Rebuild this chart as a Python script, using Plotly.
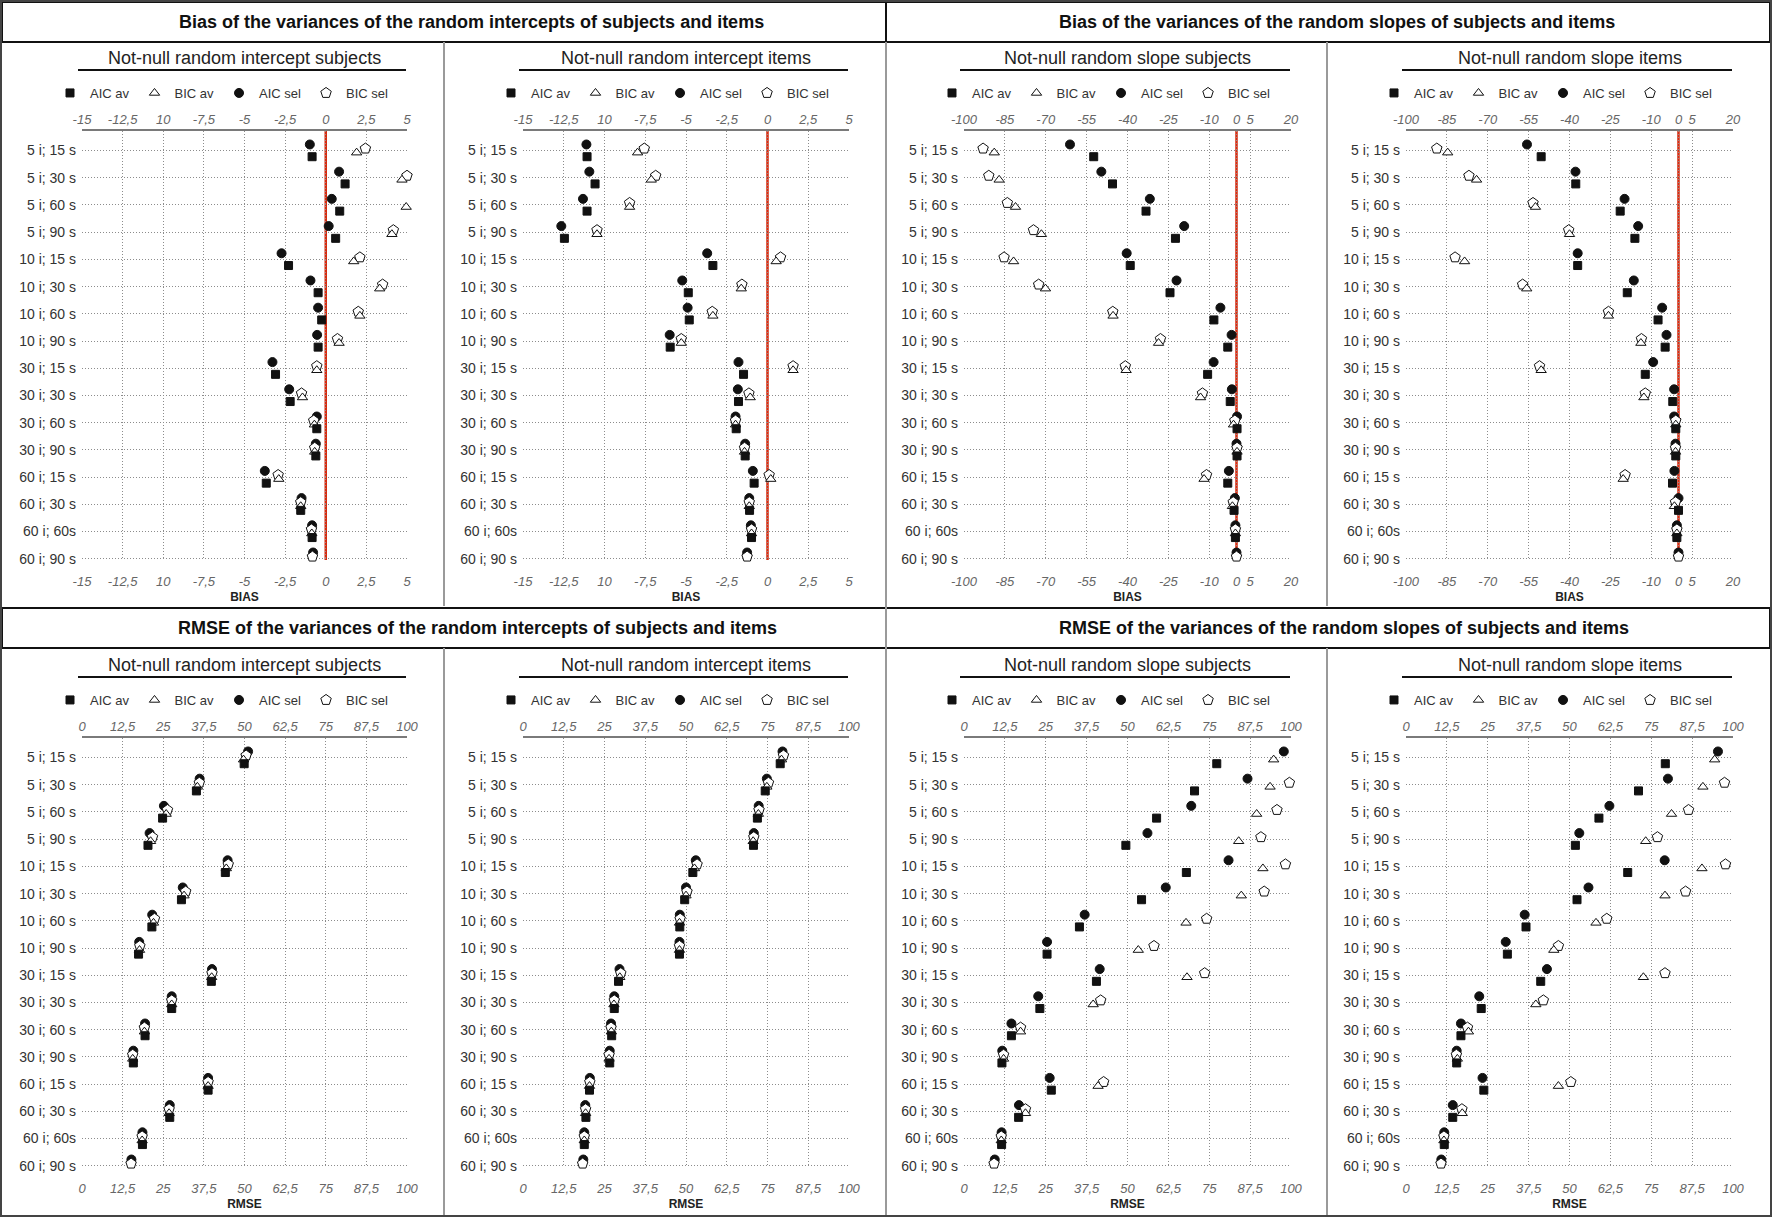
import plotly.graph_objects as go

# Simulation conditions (items; subjects)
conditions = ['5 i; 15 s', '5 i; 30 s', '5 i; 60 s', '5 i; 90 s',
              '10 i; 15 s', '10 i; 30 s', '10 i; 60 s', '10 i; 90 s',
              '30 i; 15 s', '30 i; 30 s', '30 i; 60 s', '30 i; 90 s',
              '60 i; 15 s', '60 i; 30 s', '60 i; 60s', '60 i; 90 s']

# Bias - random intercept subjects
bias_int_subj_aic_av = [-0.84, 1.19, 0.86, 0.61, -2.29, -0.47, -0.25, -0.47, -3.09, -2.19, -0.55, -0.61, -3.66, -1.54, -0.84, -0.80]
bias_int_subj_bic_av = [1.90, 4.69, 4.95, 4.07, 1.72, 3.32, 2.10, 0.82, -0.55, -1.43, -0.70, -0.68, -2.89, -1.54, -0.86, -0.80]
bias_int_subj_aic_sel = [-0.98, 0.82, 0.37, 0.18, -2.72, -0.94, -0.47, -0.53, -3.28, -2.25, -0.55, -0.61, -3.75, -1.49, -0.84, -0.78]
bias_int_subj_bic_sel = [2.44, 5.00, 5.20, 4.16, 2.10, 3.50, 2.00, 0.72, -0.55, -1.49, -0.74, -0.68, -2.93, -1.54, -0.88, -0.82]

# Bias - random intercept items
bias_int_item_aic_av = [-11.07, -10.58, -11.07, -12.46, -3.35, -4.86, -4.80, -5.97, -1.47, -1.78, -1.92, -1.37, -0.82, -1.10, -0.98, -1.25]
bias_int_item_bic_av = [-7.97, -7.13, -8.46, -10.46, 0.53, -1.61, -3.35, -5.29, 1.57, -1.06, -1.96, -1.41, 0.20, -1.12, -0.98, -1.25]
bias_int_item_aic_sel = [-11.11, -10.93, -11.32, -12.65, -3.70, -5.23, -4.90, -6.00, -1.78, -1.82, -1.96, -1.37, -0.90, -1.12, -1.02, -1.25]
bias_int_item_bic_sel = [-7.56, -6.86, -8.46, -10.46, 0.80, -1.57, -3.39, -5.29, 1.57, -1.14, -1.96, -1.41, 0.10, -1.12, -0.98, -1.25]

# Bias - random slope subjects
bias_slp_subj_aic_av = [-52.4, -45.5, -33.2, -22.4, -39.0, -24.4, -8.3, -3.2, -10.6, -2.3, 0.2, 0.2, -3.2, -0.9, -0.4, 0.0]
bias_slp_subj_bic_av = [-88.9, -87.1, -81.1, -71.6, -81.8, -70.1, -45.3, -28.6, -40.5, -13.2, -1.1, 0.2, -11.9, -1.5, -0.4, 0.0]
bias_slp_subj_aic_sel = [-61.1, -49.6, -31.8, -19.2, -40.3, -22.0, -5.9, -1.8, -8.4, -1.7, 0.2, 0.0, -2.8, -0.6, -0.4, 0.0]
bias_slp_subj_bic_sel = [-93.0, -90.9, -84.1, -74.5, -85.3, -72.6, -45.4, -27.9, -40.8, -12.5, -0.6, 0.2, -11.0, -1.2, -0.4, 0.0]

# Bias - random slope items
bias_slp_item_aic_av = [-50.4, -37.7, -21.4, -16.0, -37.0, -18.8, -7.5, -4.9, -12.2, -2.1, -1.0, -1.0, -2.2, 0.0, -0.6, 0.0]
bias_slp_item_bic_av = [-84.7, -74.1, -52.5, -40.0, -78.5, -55.7, -25.7, -13.8, -50.4, -12.7, -1.0, -1.1, -20.3, -1.5, -0.6, 0.0]
bias_slp_item_aic_sel = [-55.6, -37.8, -19.8, -14.8, -37.0, -16.4, -6.0, -4.4, -9.3, -1.6, -1.6, -1.1, -1.5, 0.0, -0.6, 0.0]
bias_slp_item_bic_sel = [-88.7, -76.9, -53.4, -40.3, -82.0, -57.2, -25.7, -13.6, -51.0, -12.2, -1.0, -1.1, -19.6, -1.1, -0.6, 0.0]

# RMSE - random intercept subjects
rmse_int_subj_aic_av = [49.9, 35.2, 24.8, 20.3, 44.1, 30.6, 21.5, 17.4, 39.8, 27.6, 19.4, 15.8, 38.8, 27.0, 18.6, 15.2]
rmse_int_subj_bic_av = [49.7, 35.5, 25.9, 21.1, 44.4, 31.4, 22.0, 17.7, 39.9, 27.6, 19.2, 15.6, 38.8, 26.8, 18.5, 15.1]
rmse_int_subj_aic_sel = [51.1, 36.2, 25.2, 20.8, 44.8, 31.0, 21.6, 17.6, 40.0, 27.6, 19.4, 15.8, 38.8, 27.0, 18.6, 15.2]
rmse_int_subj_bic_sel = [50.5, 36.1, 26.3, 21.7, 45.0, 31.9, 22.3, 17.8, 40.0, 27.6, 19.2, 15.6, 38.8, 26.8, 18.5, 15.1]

# RMSE - random intercept items
rmse_int_item_aic_av = [78.9, 74.3, 71.9, 70.7, 52.1, 49.6, 48.1, 48.0, 29.3, 28.0, 27.2, 26.6, 20.4, 19.3, 18.8, 18.5]
rmse_int_item_bic_av = [79.3, 74.8, 72.2, 70.6, 52.6, 50.0, 48.0, 48.0, 29.7, 27.9, 27.1, 26.4, 20.4, 19.2, 18.8, 18.3]
rmse_int_item_aic_sel = [79.6, 74.8, 72.3, 70.8, 53.0, 50.0, 48.1, 48.0, 29.6, 28.0, 27.0, 26.6, 20.5, 19.1, 18.8, 18.5]
rmse_int_item_bic_sel = [79.9, 75.3, 72.4, 70.8, 53.4, 50.3, 48.2, 48.0, 30.0, 28.0, 27.0, 26.4, 20.5, 19.2, 18.8, 18.3]

# RMSE - random slope subjects
rmse_slp_subj_aic_av = [77.3, 70.5, 58.9, 49.5, 68.0, 54.3, 35.3, 25.4, 40.5, 23.2, 14.5, 11.6, 26.7, 16.7, 11.5, 9.3]
rmse_slp_subj_bic_av = [94.7, 93.6, 89.5, 84.0, 91.4, 84.8, 67.9, 53.3, 68.2, 39.5, 17.3, 12.1, 41.0, 18.8, 11.4, 9.2]
rmse_slp_subj_aic_sel = [97.8, 86.7, 69.5, 56.1, 80.9, 61.7, 36.9, 25.4, 41.5, 22.7, 14.5, 11.7, 26.2, 16.8, 11.5, 9.4]
rmse_slp_subj_bic_sel = [101.2, 99.5, 95.7, 90.8, 98.3, 91.8, 74.2, 58.1, 73.6, 41.8, 17.3, 12.1, 42.7, 18.8, 11.4, 9.2]

# RMSE - random slope items
rmse_slp_item_aic_av = [79.3, 71.1, 59.0, 51.8, 67.8, 52.3, 36.7, 31.0, 41.2, 23.0, 16.8, 15.5, 23.8, 14.3, 11.7, 10.8]
rmse_slp_item_bic_av = [94.4, 90.8, 81.2, 73.3, 90.5, 79.2, 58.1, 45.2, 72.6, 39.7, 19.1, 15.7, 46.6, 17.2, 11.6, 10.7]
rmse_slp_item_aic_sel = [95.4, 80.1, 62.2, 53.0, 79.1, 55.8, 36.3, 30.5, 43.1, 22.4, 16.8, 15.5, 23.4, 14.3, 11.7, 10.8]
rmse_slp_item_bic_sel = [101.8, 97.4, 86.4, 76.9, 97.7, 85.5, 61.4, 46.6, 79.2, 42.0, 18.8, 15.4, 50.4, 17.1, 11.6, 10.7]

# Axis ticks (the original labels use decimal commas, and "10" for -10)
bias_int_ticks = [-15, -12.5, -10, -7.5, -5, -2.5, 0, 2.5, 5]
bias_int_labels = ['-15', '-12,5', '10', '-7,5', '-5', '-2,5', '0', '2,5', '5']
bias_slp_ticks = [-100, -85, -70, -55, -40, -25, -10, 0, 5, 20]
bias_slp_labels = ['-100', '-85', '-70', '-55', '-40', '-25', '-10', '0', '5', '20']
rmse_ticks = [0, 12.5, 25, 37.5, 50, 62.5, 75, 87.5, 100]
rmse_labels = ['0', '12,5', '25', '37,5', '50', '62,5', '75', '87,5', '100']

titles = ['Bias of the variances of the random intercepts of subjects and items',
          'Bias of the variances of the random slopes of subjects and items',
          'RMSE of the variances of the random intercepts of subjects and items',
          'RMSE of the variances of the random slopes of subjects and items']
subtitles = ['Not-null random intercept subjects', 'Not-null random intercept items',
             'Not-null random slope subjects', 'Not-null random slope items']

panels = [
    (bias_int_subj_aic_av, bias_int_subj_bic_av, bias_int_subj_aic_sel, bias_int_subj_bic_sel, bias_int_ticks, bias_int_labels, 'BIAS'),
    (bias_int_item_aic_av, bias_int_item_bic_av, bias_int_item_aic_sel, bias_int_item_bic_sel, bias_int_ticks, bias_int_labels, 'BIAS'),
    (bias_slp_subj_aic_av, bias_slp_subj_bic_av, bias_slp_subj_aic_sel, bias_slp_subj_bic_sel, bias_slp_ticks, bias_slp_labels, 'BIAS'),
    (bias_slp_item_aic_av, bias_slp_item_bic_av, bias_slp_item_aic_sel, bias_slp_item_bic_sel, bias_slp_ticks, bias_slp_labels, 'BIAS'),
    (rmse_int_subj_aic_av, rmse_int_subj_bic_av, rmse_int_subj_aic_sel, rmse_int_subj_bic_sel, rmse_ticks, rmse_labels, 'RMSE'),
    (rmse_int_item_aic_av, rmse_int_item_bic_av, rmse_int_item_aic_sel, rmse_int_item_bic_sel, rmse_ticks, rmse_labels, 'RMSE'),
    (rmse_slp_subj_aic_av, rmse_slp_subj_bic_av, rmse_slp_subj_aic_sel, rmse_slp_subj_bic_sel, rmse_ticks, rmse_labels, 'RMSE'),
    (rmse_slp_item_aic_av, rmse_slp_item_bic_av, rmse_slp_item_aic_sel, rmse_slp_item_bic_sel, rmse_ticks, rmse_labels, 'RMSE'),
]

W, H = 1772, 1217
FONT = 'Arial, Liberation Sans, sans-serif'
INK = '#222222'
GRID = '#8c8c8c'
DOT = '1px,2px'

# plot areas in pixels
col_x = [(82, 407), (523, 849), (964, 1291), (1406, 1733)]
row_y = [(131, 560), (738, 1167)]
row_off = [0, 607]


def px(x):
    return x / W


def py(y):
    return 1 - y / H


# series: name, symbol, size, fill, legend rank, index in panel tuple
# (trace order sets the vertical offset inside each row)
series = [
    ('AIC sel', 'circle', 9, '#111111', 3, 2),
    ('BIC sel', 'pentagon', 11, 'white', 4, 3),
    ('BIC av', 'triangle-up', 9, 'white', 2, 1),
    ('AIC av', 'square', 8, '#111111', 1, 0),
]

fig = go.Figure()
layout = {}

for p, (aic_av, bic_av, aic_sel, bic_sel, tvals, ttext, xlabel) in enumerate(panels):
    i = p + 1
    row, col = divmod(p, 4)
    x0, x1 = col_x[col]
    y0, y1 = row_y[row]
    xs = 'x' if i == 1 else f'x{i}'
    ys = 'y' if i == 1 else f'y{i}'
    xb = f'x{i + 8}'
    leg = 'legend' if i == 1 else f'legend{i}'
    vals = [aic_av, bic_av, aic_sel, bic_sel]
    xrange = [tvals[0], tvals[-1]]

    for name, sym, size, fill, rank, k in series:
        fig.add_trace(go.Scatter(
            x=vals[k], y=conditions, mode='markers', name=name,
            orientation='h', offsetgroup=name,
            xaxis=xs, yaxis=ys, legend=leg, legendrank=rank,
            marker=dict(symbol=sym, size=size, color=fill,
                        line=dict(color='#111111', width=1)),
            cliponaxis=False,
            hovertemplate=name + ': %{x}<br>%{y}<extra></extra>'
        ))
    # invisible copy on the bottom axis so it gets drawn
    fig.add_trace(go.Scatter(
        x=aic_av, y=conditions, mode='markers', xaxis=xb, yaxis=ys,
        marker=dict(opacity=0), showlegend=False, hoverinfo='skip'
    ))

    tickfont = dict(family=FONT, size=13, color='#666666', style='italic')
    # top axis carries the data, gridlines and the axis line
    layout['xaxis' if i == 1 else f'xaxis{i}'] = dict(
        domain=[px(x0), px(x1)], anchor=ys, side='top', range=xrange,
        tickmode='array', tickvals=tvals, ticktext=ttext, tickfont=tickfont,
        ticks='', showgrid=True, griddash=DOT, gridcolor=GRID, gridwidth=1,
        showline=True, linecolor='#7a7a7a', linewidth=1.5, zeroline=False,
        automargin=False
    )
    # bottom axis repeats the tick labels
    layout[f'xaxis{i + 8}'] = dict(
        overlaying=xs, anchor=ys, side='bottom', range=xrange,
        tickmode='array', tickvals=tvals, ticktext=ttext, tickfont=tickfont,
        ticks='', ticklabelstandoff=12, showgrid=False, showline=False, zeroline=False,
        automargin=False,
        title=dict(text='<b>' + xlabel + '</b>', font=dict(family=FONT, size=12, color=INK), standoff=4)
    )
    layout['yaxis' if i == 1 else f'yaxis{i}'] = dict(
        domain=[py(y1), py(y0)], anchor=xs, type='category',
        categoryorder='array', categoryarray=conditions, range=[15.05, -0.72],
        showgrid=True, griddash=DOT, gridcolor=GRID, gridwidth=1,
        ticks='', ticklabelstandoff=5, zeroline=False, showline=False,
        automargin=False,
        tickfont=dict(family=FONT, size=14, color='#333333')
    )
    layout[leg] = dict(
        orientation='h', x=px(x0 - 32), xanchor='left',
        y=py(93 + row_off[row]), yanchor='middle',
        itemwidth=30,
        font=dict(family=FONT, size=13, color='#333333'),
        bgcolor='rgba(0,0,0,0)', traceorder='normal'
    )

    # red reference line at zero for the bias panels
    if xlabel == 'BIAS':
        fig.add_shape(type='line', xref=xs, yref=ys + ' domain', x0=0, x1=0, y0=0, y1=1,
                      line=dict(color='#d62b10', width=2.5), layer='below')

    # panel subtitle with underline
    fig.add_annotation(text=subtitles[col], xref='paper', yref='paper',
                       x=px((x0 + x1) / 2), y=py(58 + row_off[row]),
                       xanchor='center', yanchor='middle', showarrow=False,
                       font=dict(family=FONT, size=18, color=INK))
    fig.add_shape(type='line', xref='paper', yref='paper',
                  x0=px(x0 - 4), x1=px(x1 - 1), y0=py(70 + row_off[row]), y1=py(70 + row_off[row]),
                  line=dict(color='#111111', width=2))

# row titles in boxes
title_x = [471, 1337, 478, 1344]
for t in range(4):
    r, c = divmod(t, 2)
    bx0, bx1 = (2, 886) if c == 0 else (886, 1770)
    top = 2 if r == 0 else 608
    fig.add_shape(type='rect', xref='paper', yref='paper',
                  x0=px(bx0), x1=px(bx1), y0=py(top), y1=py(top + 40),
                  line=dict(color='#111111', width=2))
    fig.add_annotation(text='<b>' + titles[t] + '</b>', xref='paper', yref='paper',
                       x=px(title_x[t]), y=py(top + 20), xanchor='center', yanchor='middle',
                       showarrow=False, font=dict(family=FONT, size=18, color='#111111'))

# panel separators and outer frame
for sx in [444, 1327]:
    for (a, b) in [(42, 606), (648, 1215)]:
        fig.add_shape(type='line', xref='paper', yref='paper', x0=px(sx), x1=px(sx),
                      y0=py(a), y1=py(b), line=dict(color='#9a9a9a', width=2))
fig.add_shape(type='line', xref='paper', yref='paper', x0=px(886), x1=px(886),
              y0=py(42), y1=py(1215), line=dict(color='#9a9a9a', width=2))
fig.add_shape(type='rect', xref='paper', yref='paper', x0=px(1), x1=px(1771), y0=py(1), y1=py(1216),
              line=dict(color='#444444', width=2))

fig.update_layout(
    width=W, height=H,
    margin=dict(l=0, r=0, t=0, b=0, autoexpand=False),
    scattermode='group', scattergap=0.4,
    plot_bgcolor='white', paper_bgcolor='white',
    font=dict(family=FONT, color=INK),
    **layout
)

fig.write_html('out.html', config={'displayModeBar': False},
               post_script="document.body.style.margin='0';document.body.style.overflow='hidden';")
print('saved')
